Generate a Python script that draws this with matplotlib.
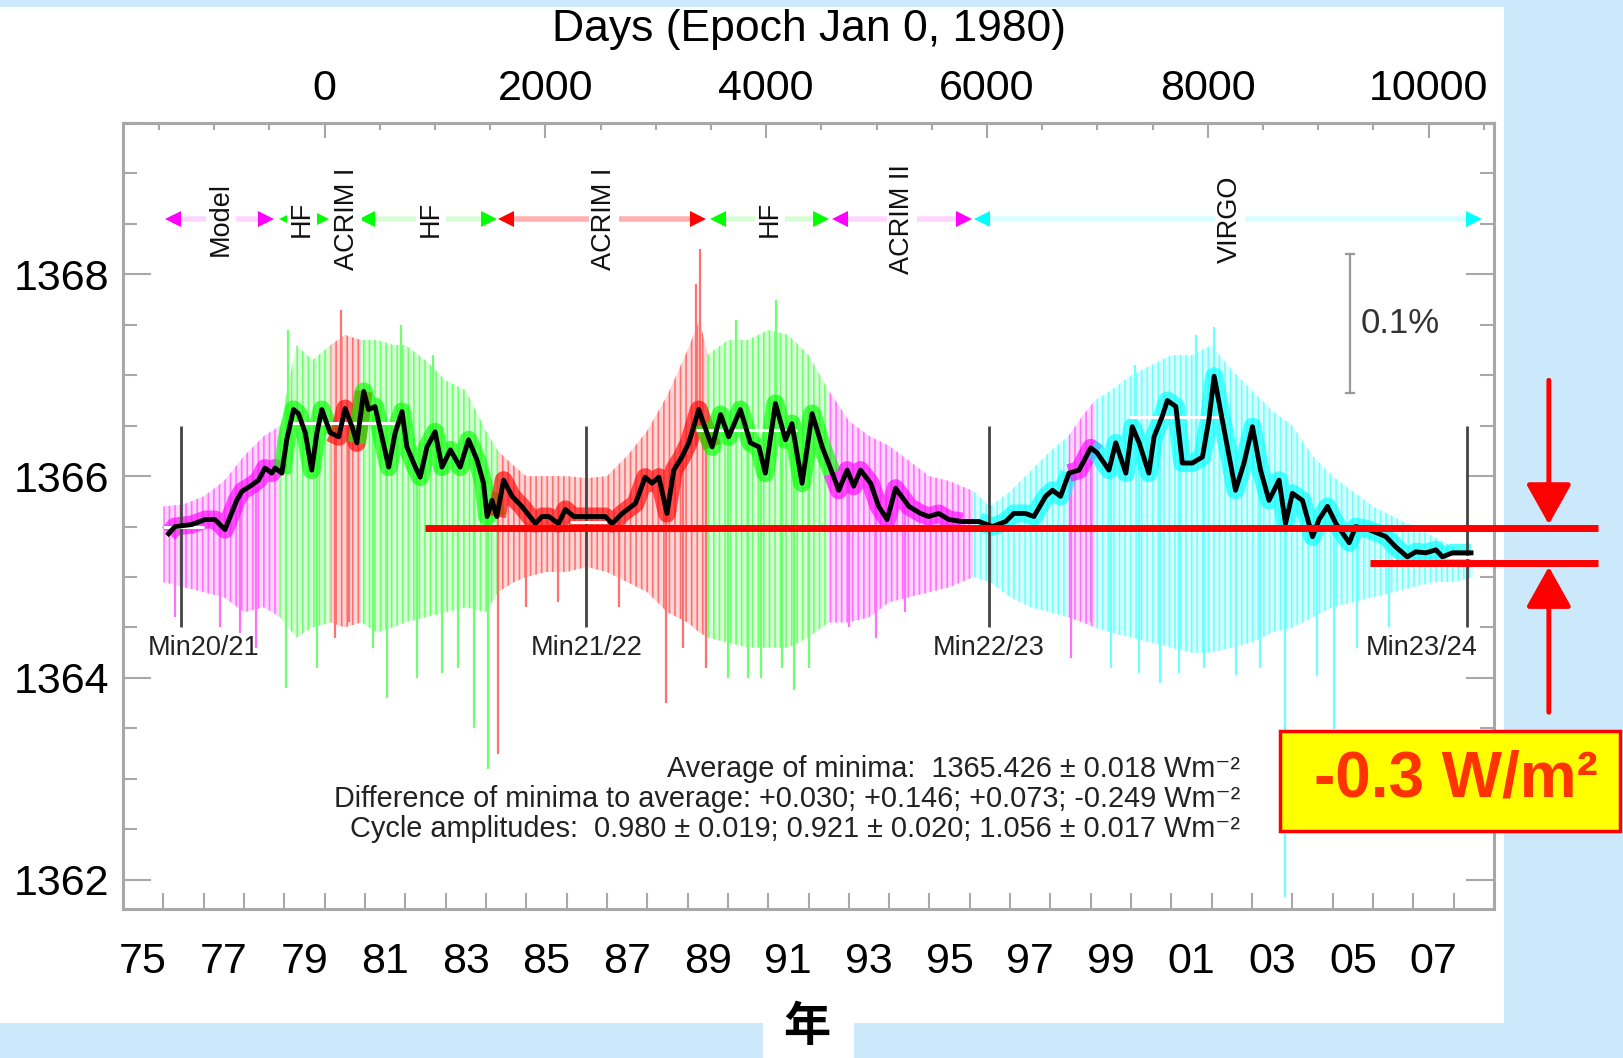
import numpy as np
import matplotlib
matplotlib.use('Agg')
import matplotlib.pyplot as plt
from matplotlib.patches import Rectangle
from matplotlib.ticker import MultipleLocator, FixedLocator

plt.rcParams['font.family'] = ['Liberation Sans', 'DejaVu Sans']
plt.rcParams['hatch.linewidth'] = 1.2

# --- 81-day running mean (black line), decimal years / W m-2 ---
bl_yr = [1976.13, 1976.29, 1976.70, 1977.04, 1977.28, 1977.53, 1977.82, 1977.95, 1978.19, 1978.36,
         1978.52, 1978.69, 1978.77, 1978.94, 1979.06, 1979.23, 1979.35, 1979.52, 1979.68, 1979.81,
         1979.93, 1980.14, 1980.35, 1980.51, 1980.68, 1980.80, 1980.97, 1981.09, 1981.25, 1981.42,
         1981.59, 1981.75, 1981.92, 1982.04, 1982.25, 1982.37, 1982.54, 1982.74, 1982.91, 1983.12,
         1983.36, 1983.57, 1983.78, 1983.94, 1984.03, 1984.15, 1984.27, 1984.44, 1984.65, 1984.89,
         1985.23, 1985.39, 1985.56, 1985.80, 1985.97, 1986.18, 1986.55, 1986.96, 1987.13, 1987.38,
         1987.71, 1987.95, 1988.12, 1988.29, 1988.49, 1988.66, 1988.86, 1989.03, 1989.28, 1989.40,
         1989.61, 1989.82, 1990.02, 1990.31, 1990.56, 1990.77, 1990.93, 1991.18, 1991.43, 1991.59,
         1991.84, 1992.09, 1992.34, 1992.59, 1992.75, 1992.96, 1993.12, 1993.29, 1993.54, 1993.74,
         1993.95, 1994.16, 1994.49, 1994.78, 1994.98, 1995.23, 1995.48, 1995.81, 1996.23, 1996.56,
         1996.89, 1997.09, 1997.38, 1997.59, 1997.88, 1998.05, 1998.25, 1998.46, 1998.71, 1999.00,
         1999.16, 1999.45, 1999.62, 1999.87, 2000.03, 2000.20, 2000.44, 2000.57, 2000.77, 2000.90,
         2001.11, 2001.27, 2001.52, 2001.77, 2001.93, 2002.06, 2002.26, 2002.59, 2002.80, 2003.01,
         2003.21, 2003.42, 2003.67, 2003.83, 2004.00, 2004.25, 2004.50, 2004.66, 2004.87, 2005.08,
         2005.41, 2005.57, 2005.90, 2006.32, 2006.56, 2006.85, 2007.06, 2007.31, 2007.56, 2007.72,
         2007.97, 2008.22, 2008.43]
bl_val = [1365.43, 1365.50, 1365.52, 1365.57, 1365.57, 1365.47, 1365.76, 1365.85, 1365.91, 1365.96,
          1366.08, 1366.03, 1366.08, 1366.03, 1366.36, 1366.66, 1366.62, 1366.43, 1366.06, 1366.43,
          1366.66, 1366.43, 1366.39, 1366.67, 1366.49, 1366.33, 1366.84, 1366.66, 1366.69, 1366.39,
          1366.09, 1366.43, 1366.64, 1366.29, 1366.09, 1365.99, 1366.29, 1366.44, 1366.09, 1366.26,
          1366.09, 1366.36, 1366.16, 1365.93, 1365.60, 1365.76, 1365.60, 1365.96, 1365.80, 1365.70,
          1365.53, 1365.60, 1365.60, 1365.53, 1365.67, 1365.60, 1365.60, 1365.60, 1365.53, 1365.63,
          1365.73, 1365.99, 1365.93, 1365.99, 1365.63, 1366.06, 1366.19, 1366.33, 1366.66, 1366.52,
          1366.29, 1366.61, 1366.39, 1366.66, 1366.33, 1366.29, 1366.03, 1366.72, 1366.36, 1366.52,
          1365.93, 1366.62, 1366.29, 1366.03, 1365.86, 1366.06, 1365.90, 1366.06, 1365.93, 1365.70,
          1365.57, 1365.88, 1365.70, 1365.63, 1365.60, 1365.63, 1365.57, 1365.55, 1365.55, 1365.50,
          1365.55, 1365.63, 1365.63, 1365.60, 1365.80, 1365.86, 1365.80, 1366.03, 1366.06, 1366.28,
          1366.23, 1366.06, 1366.33, 1366.03, 1366.49, 1366.33, 1366.03, 1366.39, 1366.59, 1366.75,
          1366.69, 1366.13, 1366.13, 1366.19, 1366.56, 1366.99, 1366.56, 1365.86, 1366.13, 1366.49,
          1366.06, 1365.76, 1365.96, 1365.53, 1365.83, 1365.76, 1365.40, 1365.57, 1365.70, 1365.53,
          1365.34, 1365.50, 1365.47, 1365.40, 1365.30, 1365.20, 1365.25, 1365.24, 1365.27, 1365.20,
          1365.24, 1365.24, 1365.24]

# --- spread of the daily values (upper / lower envelope) ---
env_yr = [1976.0, 1976.5, 1977.0, 1977.5, 1978.0, 1978.5, 1978.9, 1979.3, 1979.7, 1980.15,
          1980.5, 1980.9, 1981.3, 1981.7, 1982.0, 1982.5, 1983.0, 1983.5, 1984.0, 1984.3,
          1984.7, 1985.0, 1985.5, 1986.0, 1986.5, 1987.0, 1987.5, 1988.0, 1988.5, 1989.0,
          1989.3, 1989.5, 1990.0, 1990.5, 1991.0, 1991.5, 1992.0, 1992.5, 1993.0, 1993.5,
          1994.0, 1994.5, 1995.0, 1995.5, 1996.1, 1996.5, 1997.0, 1997.5, 1998.0, 1998.45,
          1998.8, 1999.1, 1999.5, 2000.0, 2000.5, 2001.0, 2001.5, 2002.0, 2002.5, 2003.0,
          2003.5, 2004.0, 2004.5, 2005.0, 2005.5, 2006.0, 2006.5, 2007.0, 2007.5, 2008.0, 2008.5]
env_hi = [1365.70, 1365.72, 1365.80, 1365.95, 1366.20, 1366.40, 1366.50, 1367.30, 1367.15, 1367.30,
          1367.40, 1367.35, 1367.35, 1367.30, 1367.30, 1367.15, 1366.95, 1366.85, 1366.45, 1366.25,
          1366.10, 1366.00, 1366.00, 1366.00, 1365.98, 1366.00, 1366.20, 1366.45, 1366.80, 1367.25,
          1367.55, 1367.20, 1367.35, 1367.35, 1367.45, 1367.40, 1367.20, 1366.85, 1366.55, 1366.40,
          1366.30, 1366.15, 1366.00, 1365.95, 1365.85, 1365.70, 1365.85, 1366.05, 1366.25, 1366.40,
          1366.60, 1366.75, 1366.85, 1367.00, 1367.10, 1367.20, 1367.20, 1367.30, 1367.05, 1366.85,
          1366.65, 1366.50, 1366.20, 1366.00, 1365.85, 1365.70, 1365.60, 1365.50, 1365.40, 1365.30, 1365.20]
env_lo = [1364.95, 1364.90, 1364.85, 1364.80, 1364.65, 1364.70, 1364.60, 1364.40, 1364.50, 1364.55,
          1364.50, 1364.55, 1364.45, 1364.50, 1364.55, 1364.60, 1364.65, 1364.70, 1364.65, 1364.85,
          1364.95, 1365.00, 1365.05, 1365.05, 1365.10, 1365.05, 1364.95, 1364.85, 1364.65, 1364.55,
          1364.45, 1364.40, 1364.35, 1364.30, 1364.30, 1364.30, 1364.40, 1364.55, 1364.55, 1364.60,
          1364.75, 1364.80, 1364.85, 1364.90, 1365.00, 1364.95, 1364.80, 1364.70, 1364.65, 1364.60,
          1364.55, 1364.50, 1364.45, 1364.40, 1364.35, 1364.30, 1364.25, 1364.25, 1364.30, 1364.35,
          1364.45, 1364.50, 1364.60, 1364.70, 1364.75, 1364.80, 1364.85, 1364.90, 1364.95, 1364.95, 1365.00]

# --- single-day excursions (year, low, high) ---
spk_yr = [1976.3, 1977.4, 1977.9, 1978.3, 1979.05, 1979.1, 1979.8, 1980.25, 1980.4, 1980.6,
          1981.2, 1981.55, 1981.9, 1982.3, 1982.7, 1982.9, 1983.3, 1983.7, 1984.05, 1984.3,
          1985.0, 1985.8, 1987.3, 1988.47, 1988.9, 1989.2, 1989.3, 1989.45, 1990.0, 1990.2,
          1990.5, 1990.83, 1991.2, 1991.35, 1991.63, 1992.0, 1993.0, 1993.68, 1994.4, 1998.5,
          1999.0, 1999.5, 2000.1, 2000.2, 2000.71, 2001.2, 2001.6, 2001.8, 2002.05, 2002.6,
          2003.2, 2003.81, 2004.6, 2005.03, 2005.6, 2006.4]
spk_lo = [1364.60, 1364.50, 1364.45, 1364.30, 1363.90, 1366.30, 1364.10, 1364.40, 1366.40, 1364.55,
          1364.30, 1363.80, 1366.50, 1364.00, 1366.30, 1364.05, 1364.10, 1363.50, 1363.10, 1363.25,
          1364.70, 1364.75, 1364.70, 1363.75, 1364.30, 1366.30, 1366.50, 1364.10, 1364.00, 1366.50,
          1364.00, 1364.00, 1366.60, 1364.10, 1363.88, 1364.10, 1364.50, 1364.40, 1364.65, 1364.20,
          1364.55, 1364.10, 1366.30, 1364.05, 1363.95, 1364.05, 1366.20, 1364.10, 1366.80, 1364.03,
          1364.10, 1361.83, 1364.02, 1363.49, 1364.30, 1364.50]
spk_hi = [1365.50, 1365.50, 1365.80, 1365.90, 1366.30, 1367.45, 1366.40, 1366.40, 1367.65, 1366.50,
          1366.60, 1366.10, 1367.50, 1366.10, 1367.20, 1366.10, 1366.10, 1366.30, 1365.60, 1365.60,
          1365.55, 1365.55, 1365.55, 1365.65, 1366.20, 1367.90, 1368.25, 1366.50, 1366.40, 1367.55,
          1366.30, 1366.10, 1367.75, 1366.40, 1366.40, 1366.60, 1366.00, 1365.70, 1365.70, 1366.00,
          1366.30, 1366.10, 1367.10, 1366.30, 1366.60, 1366.60, 1367.40, 1366.20, 1367.48, 1365.90,
          1366.10, 1365.60, 1365.60, 1365.55, 1365.50, 1365.40]

# --- instrument periods ---
era_start = [1975.9, 1978.9, 1980.15, 1980.9, 1984.3, 1989.5, 1992.5, 1996.1, 1998.45, 1999.1]
era_end = [1978.9, 1980.15, 1980.9, 1984.3, 1989.5, 1992.5, 1996.1, 1998.45, 1999.1, 2008.6]
era_key = ['m', 'g', 'r', 'g', 'r', 'g', 'm', 'c', 'm', 'c']

inst_start = [1976.23, 1979.07, 1981.06, 1984.51, 1989.75, 1992.77, 1996.30]
inst_end = [1978.54, 1979.92, 1984.07, 1989.27, 1992.31, 1995.85, 2008.50]
inst_key = ['m', 'g', 'g', 'r', 'g', 'm', 'c']
inst_names = ['Model', 'HF', 'ACRIM I', 'HF', 'ACRIM I', 'HF', 'ACRIM II', 'VIRGO']
inst_name_x = [1977.43, 1979.44, 1980.56, 1982.64, 1986.93, 1991.04, 1994.32, 2002.46]

# --- solar minima / maxima levels ---
min_names = ['Min20/21', 'Min21/22', 'Min22/23', 'Min23/24']
min_yr = [1976.44, 1986.49, 1996.47, 2008.33]
min_label_x = [1977.0, 1986.49, 1996.47, 2007.20]
lvl_start = [1976.0, 1979.15, 1986.09, 1989.2, 1999.95, 2007.8]
lvl_end = [1977.0, 1981.75, 1987.0, 1991.72, 2002.3, 2008.46]
lvl_val = [1365.50, 1366.53, 1365.55, 1366.46, 1366.59, 1365.20]

year_labels = ['75', '77', '79', '81', '83', '85', '87', '89', '91', '93', '95', '97', '99',
               '01', '03', '05', '07']

# annotation levels
ref_level = 1365.487
new_level = 1365.137

sat = {'m': '#ff00ff', 'g': '#00ff00', 'r': '#ff0000', 'c': '#00ffff'}
mid = {'m': '#ff70ff', 'g': '#70ff70', 'r': '#ff7070', 'c': '#70ffff'}
pale = {'m': '#ffd6ff', 'g': '#d6ffd6', 'r': '#ffd6d6', 'c': '#d6ffff'}
grey = '#a8a8a8'

W, H = 1623, 1058
fig = plt.figure(figsize=(W / 100, H / 100), dpi=100)
fig.patch.set_facecolor('#cbe9fb')
fig.add_artist(Rectangle((0, 1 - 1023 / H), 1504 / W, (1023 - 7) / H, transform=fig.transFigure,
                         facecolor='white', edgecolor='none', zorder=-2))
fig.add_artist(Rectangle((763 / W, 0), (854 - 763) / W, 0.06, transform=fig.transFigure,
                         facecolor='white', edgecolor='none', zorder=-2))

ax = fig.add_axes([123 / W, 1 - 909 / H, (1494 - 123) / W, (909 - 123) / H])
ax.set_zorder(1)
ax.set_xlim(1975.0, 2009.0)
ax.set_ylim(1361.71, 1369.5)

bl_yr_a = np.array(bl_yr)
bl_val_a = np.array(bl_val)
env_yr_a = np.array(env_yr)
spk_yr_a = np.array(spk_yr)

# daily spread, coloured by instrument (hatched to look like daily spikes)
for s, e, k in zip(era_start, era_end, era_key):
    m = (env_yr_a >= s - 1e-6) & (env_yr_a <= e + 1e-6)
    ax.fill_between(env_yr_a[m], np.array(env_lo)[m], np.array(env_hi)[m],
                    facecolor=pale[k], edgecolor=mid[k], hatch='|||', lw=0, zorder=1)
for s, e, k in zip(era_start, era_end, era_key):
    m = (spk_yr_a >= s) & (spk_yr_a < e)
    ax.vlines(spk_yr_a[m], np.array(spk_lo)[m], np.array(spk_hi)[m], color=mid[k], lw=1.6, zorder=2)
for s, e, k in zip(era_start, era_end, era_key):
    m = (bl_yr_a >= s - 0.12) & (bl_yr_a <= e + 0.12)
    ax.plot(bl_yr_a[m], bl_val_a[m], color=sat[k], lw=13, alpha=0.65, solid_capstyle='butt', zorder=3)

# levels, minima markers, running mean
ax.hlines(lvl_val, lvl_start, lvl_end, color='white', lw=2.2, zorder=5)
ax.vlines(min_yr, 1364.5, 1366.5, color='#444444', lw=2, zorder=4)
ax.plot(bl_yr, bl_val, color='black', lw=3.5, zorder=6)
for name, x in zip(min_names, min_label_x):
    ax.text(x, 1364.30, name, ha='center', va='center', fontsize=19.5, color='#222222', zorder=7)

# instrument bars at the top
for s, e, k in zip(inst_start, inst_end, inst_key):
    ax.plot([s, e], [1368.55, 1368.55], color=pale[k] if k != 'r' else '#ffb0b0', lw=4, zorder=3,
            solid_capstyle='butt')
    ax.plot([s], [1368.55], marker='<', color=sat[k], ms=12, mew=0, zorder=4)
    ax.plot([e], [1368.55], marker='>', color=sat[k], ms=12, mew=0, zorder=4)
for name, x in zip(inst_names, inst_name_x):
    ax.text(x, 1368.55, name, rotation=90, ha='center', va='center', fontsize=19.5, color='#111111',
            zorder=5, bbox=dict(facecolor='white', edgecolor='none', pad=1.5))

# 0.1 % scale bar
ax.plot([2005.43, 2005.43], [1366.82, 1368.205], color='#999999', lw=1.6, zorder=5)
ax.plot([2005.33, 2005.53], [1366.82, 1366.82], color='#999999', lw=1.6, zorder=5)
ax.plot([2005.33, 2005.53], [1368.205, 1368.205], color='#999999', lw=1.6, zorder=5)
ax.text(2005.68, 1367.51, '0.1%', fontsize=25, color='#333333', va='center', ha='left', zorder=5)

# statistics text
stats = ['Average of minima:  1365.426 ± 0.018 Wm⁻²',
         'Difference of minima to average: +0.030; +0.146; +0.073; -0.249 Wm⁻²',
         'Cycle amplitudes:  0.980 ± 0.019; 0.921 ± 0.020; 1.056 ± 0.017 Wm⁻²']
for i, line in enumerate(stats):
    ax.text(2002.70, 1363.10 - 0.297 * i, line, ha='right', va='center', fontsize=20.8,
            color='#222222', zorder=7)

# axes styling
for sp in ax.spines.values():
    sp.set_color(grey)
    sp.set_linewidth(2.2)
ax.yaxis.set_major_locator(FixedLocator([1362, 1364, 1366, 1368]))
ax.yaxis.set_minor_locator(MultipleLocator(0.5))
ax.tick_params(axis='y', which='both', direction='in', left=True, right=True, color=grey,
               width=1.5, labelsize=31, pad=10)
ax.tick_params(axis='y', which='major', length=20)
ax.tick_params(axis='y', which='minor', length=10)
ax.xaxis.set_major_locator(FixedLocator(np.arange(1975.5, 2008, 2.0)))
ax.set_xticklabels(year_labels)
ax.xaxis.set_minor_locator(FixedLocator(np.arange(1976, 2009, 1.0)))
ax.tick_params(axis='x', which='major', length=0, labelsize=31, pad=24)
ax.tick_params(axis='x', which='minor', direction='in', length=11.5, color=grey, width=1.5,
               top=False)

sec = ax.secondary_xaxis('top', functions=(lambda y: (y - 1980.0) * 365.25,
                                           lambda d: 1980.0 + d / 365.25))
sec.set_xticks([0, 2000, 4000, 6000, 8000, 10000])
sec.xaxis.set_minor_locator(MultipleLocator(500))
sec.tick_params(which='both', direction='in', color=grey, width=1.5, labelsize=31, pad=10)
sec.tick_params(which='major', length=11)
sec.tick_params(which='minor', length=5)
sec.spines['top'].set_color(grey)
sec.spines['top'].set_linewidth(2.2)
fig.text(809 / W, 1 - 29 / H, 'Days (Epoch Jan 0, 1980)', ha='center', va='center', fontsize=32)

# -0.3 W/m2 annotation
ax.plot([1982.49, 2011.59], [ref_level, ref_level], color='red', lw=5, clip_on=False, zorder=8,
        solid_capstyle='butt')
ax.plot([2005.93, 2011.59], [new_level, new_level], color='red', lw=5, clip_on=False, zorder=8,
        solid_capstyle='butt')
arrow = dict(arrowstyle='-|>,head_length=2.5,head_width=1.4', mutation_scale=10, lw=3.5,
             color='red', shrinkA=0, shrinkB=0)
ax.annotate('', xy=(2010.36, ref_level + 0.035), xytext=(2010.36, 1366.95), arrowprops=arrow,
            annotation_clip=False, zorder=8)
ax.annotate('', xy=(2010.36, new_level - 0.035), xytext=(2010.36, 1363.66), arrowprops=arrow,
            annotation_clip=False, zorder=8)
fig.add_artist(Rectangle((1280 / W, 1 - 831 / H), 340 / W, 100 / H, transform=fig.transFigure,
                         facecolor='#ffff00', edgecolor='red', lw=2.5, zorder=10))
fig.text(1456 / W, 1 - 780 / H, '-0.3 W/m²', ha='center', va='center', fontsize=46,
         fontweight='bold', color='#ff3300', zorder=11)

fig.text(807 / W, 1 - 1027 / H, '年', ha='center', va='center', fontsize=34, fontweight='bold',
         family=['Noto Sans CJK SC', 'DejaVu Sans'])

fig.savefig('out.png', dpi=100, facecolor=fig.get_facecolor())
